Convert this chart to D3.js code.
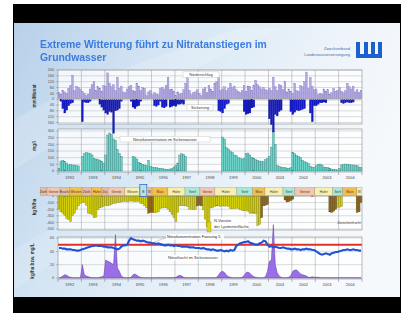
<!DOCTYPE html>
<html><head><meta charset="utf-8">
<script src="https://cdn.jsdelivr.net/npm/d3@7"></script>
<style>body{margin:0;background:#fff}svg{display:block}text{font-family:"Liberation Sans",Arial,sans-serif}</style>
</head><body><svg id="c" width="404" height="316"></svg>
<script>
// ---------- DATA ----------
const years = d3.range(1992, 2005);
const yearLabels = years.map(String);
// monthly precipitation, mm (Jan 1992 .. Dec 2004)
const precipitation = [
 45,30,60,50,40,75,95,165,60,90,80,70,
 55,40,25,35,70,100,120,60,85,75,55,95,
 90,180,110,85,100,60,150,75,90,50,45,70,
 85,95,60,55,110,90,60,80,75,25,50,60,
 30,45,35,30,75,80,70,95,150,65,70,55,
 25,50,35,40,65,110,150,60,30,45,50,65,
 40,25,70,80,45,95,70,55,110,120,150,60,
 70,85,60,75,110,80,90,65,55,45,60,95,
 55,90,85,60,95,130,100,85,70,80,65,60,
 75,60,150,85,60,100,95,65,120,50,70,55,
 40,110,60,55,95,85,120,186,75,150,90,65,
 70,30,40,35,70,55,65,30,45,75,55,60,
 80,55,45,60,110,85,70,90,50,65,45,60];
// monthly seepage, mm (drawn downward)
const seepage = [
 0,10,60,90,70,40,25,20,0,0,0,0,
 150,15,20,20,10,0,0,0,0,30,50,70,
 90,100,80,85,230,75,70,60,10,0,0,0,
 0,10,50,60,45,40,10,0,0,0,0,0,
 0,40,45,35,10,50,55,45,0,50,45,40,
 45,30,30,25,30,0,0,0,0,0,0,0,
 0,0,0,0,0,0,0,0,0,0,75,80,
 90,60,30,25,0,0,0,0,0,0,0,80,
 100,95,90,55,50,0,0,0,0,0,0,0,
 130,170,220,100,110,80,70,0,0,0,0,80,
 100,85,70,75,70,65,60,0,0,90,150,40,
 40,30,20,20,15,20,0,0,0,0,0,0,
 0,20,25,20,15,20,20,15,0,0,0,0];
// nitrate concentration in seepage water, mg/l
const nitrateSeepage = [
 20,75,80,70,60,45,50,45,45,40,38,0,
 110,130,138,135,130,120,95,90,85,80,70,60,
 120,270,285,275,240,230,160,130,110,0,0,0,
 0,0,110,105,90,65,55,50,45,40,80,35,
 30,25,25,22,20,18,15,12,12,15,18,30,
 40,60,120,130,125,110,0,0,0,0,0,0,
 0,0,0,0,0,0,0,0,0,0,0,0,
 255,240,175,165,150,140,120,115,100,95,90,95,
 130,135,120,100,95,85,80,75,72,70,85,95,
 110,180,295,200,40,35,30,25,25,22,20,25,
 140,130,115,110,100,80,70,65,55,35,30,28,
 40,50,52,45,30,28,25,20,15,12,10,8,
 20,45,50,52,50,48,45,45,42,40,30,25];
// N stocks of the lysimeter area, kg N/ha (two shades)
const nStockA = [
 200,240,260,300,340,360,390,300,260,200,150,110,
 100,100,140,260,270,280,330,320,210,180,170,160,
 140,150,140,130,110,110,100,95,90,80,80,85,
 80,75,80,85,80,80,110,120,150,180,0,0,
 0,255,250,240,190,180,175,180,200,240,280,330,
 390,250,150,145,150,150,160,200,200,210,200,0,
 0,0,210,350,470,480,180,170,160,150,150,160,
 150,155,150,160,190,195,190,185,190,210,220,225,
 220,230,260,260,260,270,450,430,0,0,0,0,
 0,0,0,0,0,0,0,0,0,0,0,0,
 0,0,0,0,0,0,0,0,0,0,0,0,
 0,0,0,0,0,0,0,0,0,0,0,170,
 170,160,0,0,0,0,0,0,0,0,0,0];
const nStockB = [
 0,0,0,0,0,0,0,0,0,0,0,0,
 0,0,0,0,0,0,0,0,0,0,0,0,
 0,0,0,0,0,0,0,0,0,0,0,0,
 0,0,0,0,0,0,0,0,0,0,260,250,
 250,0,0,0,0,0,0,0,0,0,0,0,
 0,0,0,0,0,0,0,0,0,0,0,150,
 140,150,0,0,0,0,0,0,0,0,0,0,
 0,0,0,0,0,0,0,0,0,0,0,0,
 0,0,0,0,0,0,0,0,330,150,140,130,
 0,0,0,0,0,0,0,0,60,90,85,70,
 50,0,0,0,0,0,0,0,0,0,10,0,
 0,0,0,0,0,0,0,240,250,230,200,0,
 0,0,0,0,0,0,0,0,0,250,240,100];
// nitrate concentration well "Fassung 5", mg/l
const wellNitrate = [
 45,45,44,44,43,43,43,42,42,41,41,42,
 43,44,45,46,47,48,48,49,48,48,48,47,
 47,46,46,46,45,44,43,44,47,49,49,50,
 56,60,58,57,56,56,55,56,55,54,53,53,
 52,52,51,52,51,50,49,49,50,49,49,48,
 49,48,48,47,47,47,47,46,46,46,45,45,
 45,44,45,44,43,43,42,43,42,41,41,42,
 41,40,41,40,42,41,42,48,50,52,53,54,
 54,55,53,52,51,50,50,52,53,56,55,50,
 47,48,46,47,46,45,45,46,45,44,44,43,
 43,44,43,43,42,43,43,44,43,43,42,42,
 40,38,36,35,36,37,36,35,37,38,39,39,
 40,41,42,42,43,42,42,43,42,42,41,41];
// nitrate load in seepage water, kg N/ha
const nitrateLoad = [
 0.5,1,3,5,4,2,1,0.5,0.3,0.3,0.3,0.5,
 20,5,3,2,1,0.5,0.3,0.3,0.3,1,2,3,
 27,25,24,22,20,65,15,10,3,1,0.5,0.5,
 0.5,1,5,6,4,2,1,0.5,0.3,0.3,0.3,0.3,
 0.3,0.3,0.5,0.5,0.5,0.3,0.3,0.3,0.3,0.5,0.5,0.5,
 1,3,4,3,1,0.5,0.3,0.3,0.3,0.3,0.3,0.3,
 0.3,0.3,0.3,0.3,0.3,0.3,0.3,0.3,0.3,1,5,9,
 10,8,4,2,1,0.5,0.3,0.3,0.3,0.5,1,4,
 8,9,7,4,2,1,0.5,0.3,0.3,0.5,2,10,
 25,27,80,20,8,3,1,0.5,0.3,0.5,1,4,
 10,12,12,9,6,5,4,3,1,1,2,1,
 1,1,0.5,0.5,0.3,0.3,0.3,0.3,0.3,0.3,0.3,0.3,
 0.5,0.5,0.5,0.5,0.3,0.3,0.3,0.3,0.3,0.3,0.3,0.3];
const limitValue = 50;
// crop rotation on the lysimeter
const cropStart = [1991.25,1991.53,1992.09,1992.51,1993.03,1993.45,1993.88,1994.14,1994.86,1995.5,1995.8,1996.02,1996.7,1997.43,1998.07,1998.71,1999.65,2000.33,2000.85,2001.62,2002.13,2002.98,2003.75,2004.18,2004.78];
const cropLabels = ["Zwifr.","Gerste","Brache","Weizen","Zwifr.","Hafer","Zw.","Gerste","Weizen","B","W","Mais","Hafer","Senf","Gerste","Hafer","Senf","Mais","Hafer","Senf","Gerste","Hafer","Senf","Mais","W"];
const cropKind = ["zw","ge","br","we","zw","we","zw","ge","ha","mk","zw","we","ha","se","ge","ha","se","we","ha","se","ge","ha","se","we","ha"];
const precipTicks = [200,160,120,80,40,0,-40,-80,-120,-160];
const concTicks = [0,50,100,150,200,250,300];
const stockTicks = [0,-100,-200,-300,-400,-500];
const loadTicks = [0,20,40,60];

// ---------- DRAW ----------
const svg = d3.select('#c');
const defs = svg.append('defs');
const g1 = defs.append('linearGradient').attr('id','bg').attr('x1',0).attr('y1',0).attr('x2',1).attr('y2',0.35);
[['0','#b7d0e9'],['0.35','#d3e4f3'],['0.7','#eaf2f9'],['1','#f6f9fc']].forEach(s=>g1.append('stop').attr('offset',s[0]).attr('stop-color',s[1]));
const blur = defs.append('filter').attr('id','bl'); blur.append('feGaussianBlur').attr('stdDeviation',0.35);

svg.append('rect').attr('x',13).attr('y',4).attr('width',388).attr('height',309).attr('fill','#000');
svg.append('rect').attr('x',14).attr('y',23).attr('width',386).attr('height',274).attr('fill','url(#bg)');
// soft streaks
svg.append('path').attr('d','M14,120 C80,80 150,60 240,28 L280,28 C170,80 90,120 14,170Z').attr('fill','#fff').attr('opacity',0.18);
svg.append('path').attr('d','M14,250 C60,220 120,200 200,160 L230,165 C140,210 70,250 14,290Z').attr('fill','#fff').attr('opacity',0.15);

// title
const title = svg.append('g').attr('filter','url(#bl)');
title.append('text').attr('x',40).attr('y',48).attr('font-size',10.4).attr('font-weight','bold').attr('fill','#3b7be0').text('Extreme Witterung führt zu Nitratanstiegen im');
title.append('text').attr('x',40).attr('y',61).attr('font-size',10.4).attr('font-weight','bold').attr('fill','#3b7be0').text('Grundwasser');
// logo
svg.append('text').attr('x',350).attr('y',50).attr('text-anchor','end').attr('font-size',4).attr('fill','#4a6aa8').text('Zweckverband');
svg.append('text').attr('x',350).attr('y',56).attr('text-anchor','end').attr('font-size',4).attr('fill','#4a6aa8').text('Landeswasserversorgung');
const logo = svg.append('g').attr('fill','#1f5fd0').attr('filter','url(#bl)');
logo.append('path').attr('d','M356,42 h4 v12 h4 v4 h-8Z M364,42 h4 v12 h3 v-12 h4 v12 h3 v-12 h4 v16 h-18Z');

const x = d3.scaleLinear().domain([1992,2005]).range([58,362]);
const t = i => 1992 + i/12;
const mx = i => x(t(i));
const mw = i => x(t(i+1)) - x(t(i));
const L = 58, R = 362;

function grid(yScale, ticks, y0, y1){
  const g = svg.append('g');
  g.append('rect').attr('x',L).attr('y',y0).attr('width',R-L).attr('height',y1-y0).attr('fill','#fff').attr('opacity',0.8);
  g.selectAll('.h').data(ticks).join('line').attr('x1',L).attr('x2',R).attr('y1',d=>yScale(d)).attr('y2',d=>yScale(d)).attr('stroke','#b8b8b8').attr('stroke-width',0.5);
  g.selectAll('.v').data(d3.range(1993,2005)).join('line').attr('x1',d=>x(d)).attr('x2',d=>x(d)).attr('y1',y0).attr('y2',y1).attr('stroke','#9a9a9a').attr('stroke-width',0.5);
}
function frame(y0,y1){
  svg.append('rect').attr('x',L).attr('y',y0).attr('width',R-L).attr('height',y1-y0).attr('fill','none').attr('stroke','#8c8c8c').attr('stroke-width',0.6);
}
function yLabels(yScale, ticks, fmt){
  svg.append('g').selectAll('text').data(ticks).join('text').attr('x',L-4).attr('y',d=>yScale(d)+1.3).attr('text-anchor','end').attr('font-size',3.8).attr('fill','#555').text(fmt);
  svg.append('g').selectAll('line').data(ticks).join('line').attr('x1',L-2).attr('x2',L).attr('y1',d=>yScale(d)).attr('y2',d=>yScale(d)).attr('stroke','#888').attr('stroke-width',0.5);
}
function xLabels(yBase){
  svg.append('g').selectAll('text').data(years).join('text').attr('x',d=>x(d+0.5)).attr('y',yBase+6.5).attr('text-anchor','middle').attr('font-size',4).attr('fill','#444').text((d,i)=>yearLabels[i]);
  svg.append('g').selectAll('line').data(d3.range(1992,2006)).join('line').attr('x1',d=>x(d)).attr('x2',d=>x(d)).attr('y1',yBase).attr('y2',yBase+3).attr('stroke','#777').attr('stroke-width',0.5);
}
function yTitle(txt, cx, cy){
  svg.append('text').attr('transform',`translate(${cx},${cy}) rotate(-90)`).attr('text-anchor','middle').attr('font-size',4.6).attr('font-weight','bold').attr('fill','#333').text(txt);
}
function tag(txt, cx, cy, w){
  svg.append('rect').attr('x',cx-w/2).attr('y',cy-3.6).attr('width',w).attr('height',5.6).attr('fill','#fff').attr('stroke','#aaa').attr('stroke-width',0.3);
  svg.append('text').attr('x',cx).attr('y',cy+0.7).attr('text-anchor','middle').attr('font-size',4).attr('fill','#333').text(txt);
}

// Panel 1/2: precipitation & seepage
const yP = d3.scaleLinear().domain([-170,200]).range([124,70]);
grid(yP, precipTicks, 70, 124);
svg.append('g').selectAll('rect').data(precipitation).join('rect')
  .attr('x',(d,i)=>mx(i)).attr('width',(d,i)=>mw(i)-0.15).attr('y',d=>yP(d)).attr('height',d=>yP(0)-yP(d))
  .attr('fill','#b3a9e2').attr('stroke','#7c6fb8').attr('stroke-width',0.3);
svg.append('line').attr('x1',L).attr('x2',R).attr('y1',yP(0)).attr('y2',yP(0)).attr('stroke','#fff').attr('stroke-width',1.4);
frame(70, yP(0)-0.7); frame(yP(0)+0.7, 124);
yLabels(yP, precipTicks, d=>Math.abs(d));
tag('Niederschlag', 201, 75.5, 36);
tag('Sickerung', 200, 108.5, 26);
yTitle('mm/Monat', 36, 96);

// Panel 3: nitrate concentration
const yC = d3.scaleLinear().domain([0,300]).range([171,131]);
grid(yC, concTicks, 129, 172);
svg.append('g').selectAll('rect').data(nitrateSeepage).join('rect')
  .attr('x',(d,i)=>mx(i)).attr('width',(d,i)=>mw(i)).attr('y',d=>yC(d)).attr('height',d=>yC(0)-yC(d))
  .attr('fill','#6dd3c9').attr('stroke','#2d7c78').attr('stroke-width',0.35);
frame(129,172);
yLabels(yC, concTicks, d=>d);
xLabels(172);
tag('Nitratkonzentration im Sickerwasser', 165, 140, 90);
yTitle('mg/l', 36, 146);

// seepage bars (drawn after panel 3 so spikes overlap)
svg.append('g').selectAll('rect').data(seepage).join('rect')
  .attr('x',(d,i)=>mx(i)).attr('width',(d,i)=>mw(i)).attr('y',yP(0)+0.7).attr('height',d=>d>0? yP(-d)-yP(0):0)
  .attr('fill','#1319c4').attr('stroke','#0a0e80').attr('stroke-width',0.2);

// Panel 4: N stock
const yN = d3.scaleLinear().domain([0,-500]).range([196,229]);
grid(yN, stockTicks, 196, 230);
svg.append('g').selectAll('rect').data(nStockA).join('rect')
  .attr('x',(d,i)=>mx(i)).attr('width',(d,i)=>mw(i)).attr('y',yN(0)).attr('height',d=>yN(-d)-yN(0))
  .attr('fill','#d3cf08').attr('stroke','#7f7c10').attr('stroke-width',0.35);
svg.append('g').selectAll('rect').data(nStockB).join('rect')
  .attr('x',(d,i)=>mx(i)).attr('width',(d,i)=>mw(i)).attr('y',yN(0)).attr('height',d=>yN(-d)-yN(0))
  .attr('fill','#8f6a1c').attr('stroke','#5a4010').attr('stroke-width',0.35);
frame(196,230);
yLabels(yN, stockTicks, d=>d);
yTitle('kg N/ha', 36, 207);
// crop band
const cropColor = {zw:'#e7bba4', ge:'#f2c6b0', br:'#e3c19a', we:'#f3bf4c', ha:'#f6efb2', se:'#a9e7d6', mk:'#aee8e6'};
const cb = svg.append('g');
cropStart.forEach((s,i)=>{
  const e = i < cropStart.length-1 ? cropStart[i+1] : 2005;
  const x0 = x(s), x1 = x(e);
  const mk = cropKind[i]==='mk';
  cb.append('rect').attr('x',x0).attr('y',mk?184.5:187.5).attr('width',x1-x0).attr('height',mk?12:8)
    .attr('fill',cropColor[cropKind[i]]).attr('stroke',mk?'#2f55c8':'#9a8f80').attr('stroke-width',mk?0.7:0.35);
  cb.append('text').attr('x',(x0+x1)/2).attr('y',192.6).attr('text-anchor','middle').attr('font-size',3.3).attr('fill','#4a3a2a').text(cropLabels[i]);
});
// legend N stocks
svg.append('rect').attr('x',207).attr('y',222).attr('width',4).attr('height',10).attr('fill','#d9d41a').attr('stroke','#8a8510').attr('stroke-width',0.3);
svg.append('rect').attr('x',212).attr('y',217.5).attr('width',36).attr('height',12).attr('fill','#fff').attr('opacity',0.85);
svg.append('text').attr('x',214).attr('y',222).attr('font-size',4).attr('fill','#333').text('N-Vorräte');
svg.append('text').attr('x',214).attr('y',228).attr('font-size',4).attr('fill','#333').text('der Lysimeterfläche');
svg.append('text').attr('x',349).attr('y',223.5).attr('text-anchor','middle').attr('font-size',3.5).attr('fill','#444').text('Zwischenfrucht');

// Panel 5: well nitrate & load
const yF = d3.scaleLinear().domain([0,60]).range([278,238]);
grid(yF, loadTicks, 237, 279);
const area = d3.area().x((d,i)=>x(t(i+0.5))).y0(yF(0)).y1(d=>yF(d));
svg.append('path').datum(nitrateLoad).attr('d',area).attr('fill','#9a6ee6').attr('stroke','#5f35a8').attr('stroke-width',0.5);
svg.append('line').attr('x1',L).attr('x2',R).attr('y1',yF(limitValue)).attr('y2',yF(limitValue)).attr('stroke','#e0302a').attr('stroke-width',2);
const line = d3.line().x((d,i)=>x(t(i+0.5))).y(d=>yF(d));
svg.append('path').datum(wellNitrate).attr('d',line).attr('fill','none').attr('stroke','#2c5fe0').attr('stroke-width',2.2);
svg.append('path').datum(wellNitrate).attr('d',line).attr('fill','none').attr('stroke','#1a3fb0').attr('stroke-width',0.6);
frame(237,279);
yLabels(yF, loadTicks, d=>d);
xLabels(279);
yTitle('kg/ha bzw. mg/L', 34, 261);
svg.append('line').attr('x1',152).attr('y1',243).attr('x2',166).attr('y2',237.5).attr('stroke','#666').attr('stroke-width',0.3);
svg.append('rect').attr('x',166).attr('y',234).attr('width',58).attr('height',5.5).attr('fill','#fff').attr('opacity',0.85);
svg.append('text').attr('x',167).attr('y',238.3).attr('font-size',4).attr('fill','#333').text('Nitratkonzentration Fassung 5');
svg.append('rect').attr('x',167).attr('y',255).attr('width',52).attr('height',5.5).attr('fill','#fff').attr('opacity',0.85);
svg.append('text').attr('x',168).attr('y',259.3).attr('font-size',4).attr('fill','#333').text('Nitratfracht im Sickerwasser');
</script></body></html>
